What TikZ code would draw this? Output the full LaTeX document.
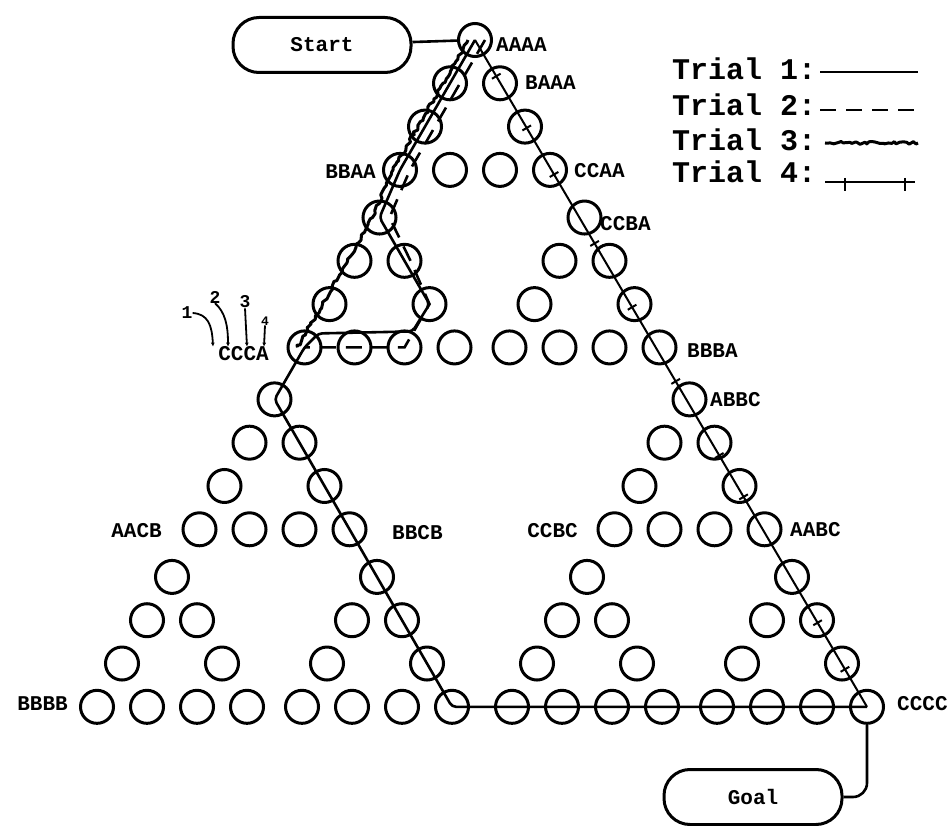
\documentclass[tikz,border=0pt]{standalone}
\usepackage{fontspec}
\setmainfont{Liberation Mono}
\usetikzlibrary{decorations.pathmorphing,decorations.markings,calc,arrows.meta}
\newcommand\tickmk{\draw[line width=2pt] (0,-5) -- (0,5);}
\newcommand\tickleg{\draw[line width=2pt] (0,-4) -- (0,9);}
\begin{document}
\begin{tikzpicture}[x=1pt,y=-1pt,
  st/.style={circle, draw, line width=3pt, minimum size=33pt, inner sep=0pt},
  lab/.style={font=\fontsize{21}{21}\selectfont\bfseries, inner sep=0pt},
  num/.style={font=\fontsize{18}{18}\selectfont\bfseries, inner sep=0pt},
  legt/.style={font=\fontsize{30}{30}\selectfont\bfseries, inner sep=0pt, anchor=base west},
  box/.style={draw, line width=3pt, rounded corners=26pt, minimum width=178pt, minimum height=55pt, font=\fontsize{21}{21}\selectfont\bfseries},
  tone/.style={line width=2.6pt, line join=round},
  ttwo/.style={line width=2.6pt, dash pattern=on 16pt off 10pt},
  tthree/.style={line width=3pt, line join=round, decorate, decoration={random steps, segment length=3pt, amplitude=1.5pt}},
  tfour/.style={line width=2pt, postaction={decorate}, decoration={markings,
     mark=at position 42pt with {\tickmk}, mark=at position 102pt with {\tickmk},
     mark=at position 156pt with {\tickmk}, mark=at position 236pt with {\tickmk},
     mark=at position 310pt with {\tickmk}, mark=at position 396pt with {\tickmk},
     mark=at position 482pt with {\tickmk}, mark=at position 530pt with {\tickmk},
     mark=at position 676pt with {\tickmk}, mark=at position 730pt with {\tickmk}}},
  tfourleg/.style={line width=2pt, postaction={decorate}, decoration={markings,
     mark=at position 20pt with {\tickleg}, mark=at position 80pt with {\tickleg}}},
  hook/.style={line width=1.8pt, -{Latex[length=4pt,width=4pt]}},
]
\pgfmathsetseed{7}
\fill[white] (0,0) rectangle (951,826);
\useasboundingbox (0,0) rectangle (951,826);

% state nodes (Sierpinski layout)
\foreach \la in {0,1,2}{\foreach \lb in {0,1,2}{\foreach \lc in {0,1,2}{\foreach \ld in {0,1,2}{
  \pgfmathsetmacro{\px}{482+((\la==2)-(\la==1))*207.5+((\lb==2)-(\lb==1))*102.5+((\lc==2)-(\lc==1))*50+((\ld==2)-(\ld==1))*25-7*(\la==0)*(\lb==0)}
  \pgfmathsetmacro{\py}{40+0.866*((\la>0)*415+(\lb>0)*205+(\lc>0)*100+(\ld>0)*50)}
  \pgfmathtruncatemacro{\rr}{(\la>0)*8+(\lb>0)*4+(\lc>0)*2+(\ld>0)}
  \pgfmathtruncatemacro{\kk}{(\la==2)*8+(\lb==2)*4+(\lc==2)*2+(\ld==2)}
  \node[st] (n-\rr-\kk) at (\px,\py) {};
}}}}

% boxes
\node[box] (Start) at (322,45) {Start};
\node[box] (Goal) at (753,797) {Goal};

% state labels
\node[lab, anchor=west] (lAAAA) at (496,45) {AAAA};
\node[lab, anchor=west] (lBAAA) at (525,83) {BAAA};
\node[lab, anchor=east] (lBBAA) at (376,172) {BBAA};
\node[lab, anchor=west] (lCCAA) at (574,171) {CCAA};
\node[lab, anchor=west] (lCCBA) at (600,224) {CCBA};
\node[lab, anchor=east] (lCCCA) at (269,354) {CCCA};
\node[lab, anchor=west] (lBBBA) at (687,351) {BBBA};
\node[lab, anchor=west] (lABBC) at (710,400) {ABBC};
\node[lab, anchor=east] (lAACB) at (162,531) {AACB};
\node[lab, anchor=west] (lBBCB) at (392,533) {BBCB};
\node[lab, anchor=east] (lCCBC) at (578,531) {CCBC};
\node[lab, anchor=west] (lAABC) at (790,530) {AABC};
\node[lab, anchor=east] (lBBBB) at (68,704) {BBBB};
\node[lab, anchor=west] (lCCCC) at (897,704) {CCCC};

% disk-number annotation
\node[num] (k1) at (187,313) {1};
\node[num] (k2) at (215,297) {2};
\node[num] (k3) at (245,302) {3};
\node[font=\fontsize{13}{13}\selectfont\bfseries, inner sep=0pt] (k4) at (265,321) {4};
\draw[hook] (k1.east) .. controls (208,314) and (212,325) .. (lCCCA.north west -| 213,0);
\draw[hook] (k2.south) .. controls (225,312) and (228,325) .. (lCCCA.north west -| 228,0);
\draw[hook] (k3.south) -- (lCCCA.north west -| 247,0);
\draw[hook] (k4.south) -- (lCCCA.north west -| 264,0);

% trials
\coordinate (lb1) at ($(n-7-2.center)+(8,-16)$);
\coordinate (lb2) at ($(n-7-0.center)+(14,-14)$);
\draw[tone] (Start) -- (n-0-0);
\draw[tthree] ([xshift=-7]n-0-0.center) -- ([xshift=-7]n-1-0.center) -- ([xshift=-7]n-2-0.center) -- ([xshift=-7]n-3-0.center) -- ([xshift=-7]n-4-0.center) -- ([xshift=-7]n-5-0.center) -- ([xshift=-7]n-6-0.center) -- ([xshift=-7]n-7-0.center);
\draw[ttwo] ([xshift=10]n-0-0.center) -- ([xshift=10]n-1-0.center) -- ([xshift=10]n-2-0.center) -- ([xshift=10]n-3-0.center) -- ([xshift=10]n-4-0.center) -- ([xshift=6]n-5-1.center) -- (n-6-2.center) -- (n-7-2.center) -- (n-7-1.center) -- (n-7-0.center);
\draw[tone, rounded corners=4pt] (n-0-0.center) -- (n-1-0.center) -- (n-2-0.center) -- (n-3-0.center) -- (n-4-0.center) -- (n-5-1.center) -- (n-6-2.center) -- (lb1) -- (lb2) -- (n-7-0.center) -- (n-8-0.center) -- (n-15-7.center) -- (n-15-15.center);
\draw[tfour] (n-0-0.center) -- (n-15-15.center);
\draw[tone, rounded corners=14pt] (n-15-15.south) |- (Goal.east);

% legend
\node[legt] (leg1) at (672,80) {Trial 1:};
\node[legt] (leg2) at (672,116) {Trial 2:};
\node[legt] (leg3) at (672,151) {Trial 3:};
\node[legt] (leg4) at (672,183) {Trial 4:};
\coordinate (e1a) at (820,72);  \coordinate (e1b) at (918,72);
\coordinate (e2a) at (820,110); \coordinate (e2b) at (918,110);
\coordinate (e3a) at (825,143); \coordinate (e3b) at (918,143);
\coordinate (e4a) at (825,182); \coordinate (e4b) at (915,182);
\draw[tone] (e1a) -- (e1b);
\draw[ttwo] (e2a) -- (e2b);
\draw[tthree] (e3a) -- (e3b);
\draw[tfourleg] (e4a) -- (e4b);
\end{tikzpicture}
\end{document}
